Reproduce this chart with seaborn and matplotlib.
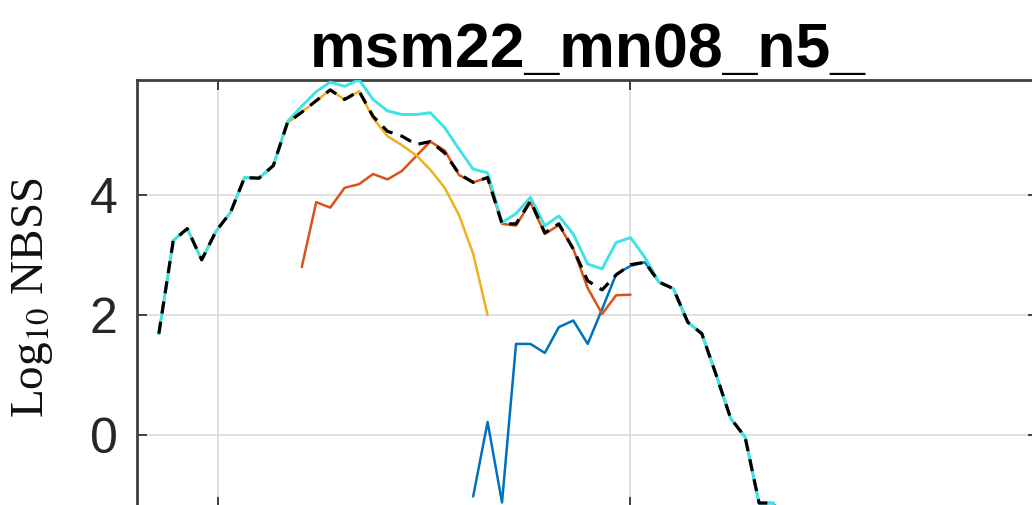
import numpy as np
import pandas as pd
import matplotlib
matplotlib.use("Agg")
import matplotlib.pyplot as plt
import seaborn as sns

# log10 size bin centres (x axis; gridlines at 2 and 3)
log_size = [1.856, 1.891, 1.925, 1.960, 1.995, 2.030, 2.064, 2.099, 2.134, 2.168,
            2.203, 2.238, 2.272, 2.307, 2.342, 2.376, 2.411, 2.446, 2.481, 2.515,
            2.550, 2.585, 2.619, 2.654, 2.689, 2.723, 2.758, 2.793, 2.827, 2.862,
            2.897, 2.932, 2.966, 3.001, 3.036, 3.070, 3.105, 3.140, 3.174, 3.209,
            3.244, 3.279, 3.313, 3.348, 3.383]

# black dashed: combined NBSS
total = [1.69, 3.24, 3.44, 2.92, 3.40, 3.71, 4.29, 4.28, 4.49, 5.20,
         5.38, 5.57, 5.75, 5.59, 5.73, 5.31, 5.06, 4.98, 4.84, 4.89,
         4.70, 4.35, 4.21, 4.29, 3.52, 3.52, 3.90, 3.37, 3.52, 3.10,
         2.57, 2.42, 2.67, 2.84, 2.88, 2.55, 2.44, 1.88, 1.69, 1.00,
         0.28, -0.03, -1.13, -1.13, -1.90]

# cyan: upper envelope
upper = [1.69, 3.24, 3.44, 2.92, 3.40, 3.71, 4.29, 4.28, 4.49, 5.22,
         5.48, 5.72, 5.88, 5.81, 5.92, 5.59, 5.40, 5.34, 5.34, 5.37,
         5.12, 4.76, 4.43, 4.37, 3.54, 3.69, 3.96, 3.49, 3.65, 3.35,
         2.85, 2.77, 3.21, 3.29, 2.96, 2.55, 2.44, 1.88, 1.69, 1.00,
         0.28, -0.03, -1.13, -1.13, -1.90]

# yellow: instrument 1 (bins 0..23)
inst1 = [1.69, 3.24, 3.44, 2.92, 3.40, 3.71, 4.29, 4.28, 4.49, 5.20,
         5.38, 5.57, 5.75, 5.59, 5.73, 5.28, 4.98, 4.83, 4.66, 4.42,
         4.12, 3.66, 3.02, 2.00]

# red: instrument 2 (bins 10..33)
inst2 = [2.80, 3.88, 3.79, 4.12, 4.18, 4.35, 4.26, 4.40, 4.65, 4.89,
         4.74, 4.33, 4.21, 4.29, 3.52, 3.49, 3.88, 3.35, 3.50, 3.10,
         2.45, 2.02, 2.33, 2.34]

# blue: instrument 3 (bins 22..44)
inst3 = [-1.02, 0.22, -1.12, 1.52, 1.52, 1.37, 1.80, 1.91, 1.52, 2.10,
         2.68, 2.82, 2.88, 2.55, 2.44, 1.88, 1.69, 1.00, 0.28, -0.03,
         -1.13, -1.13, -1.90]

y_ticks = [0, 2, 4]
x_ticks = [2, 3]
title = "msm22_mn08_n5_"

sns.set_theme(style="white")
plt.rcParams["font.family"] = ["Liberation Sans", "DejaVu Sans"]
plt.rcParams["mathtext.fontset"] = "stix"

W, H = 1032, 505
fig = plt.figure(figsize=(W / 100, H / 100), dpi=100)
ax = fig.add_axes([137 / W, (H - 507) / H, (1038 - 137) / W, (507 - 80) / H])

x1 = log_size[0:len(inst1)]
x2 = log_size[10:10 + len(inst2)]
x3 = log_size[22:22 + len(inst3)]

lw = 1.8
sns.lineplot(x=x3, y=inst3, ax=ax, color="#0072BD", linewidth=lw, zorder=3)
sns.lineplot(x=x2, y=inst2, ax=ax, color="#D95319", linewidth=lw, zorder=3)
sns.lineplot(x=x1, y=inst1, ax=ax, color="#EDB120", linewidth=lw, zorder=3)
sns.lineplot(x=log_size, y=upper, ax=ax, color="#3ee3e3", linewidth=2.1, zorder=4)
sns.lineplot(x=log_size, y=total, ax=ax, color="black", linewidth=2.3,
             linestyle=(0, (3.8, 2.6)), zorder=5)

ax.set_xlim(1.803, 3.990)
ax.set_ylim(-1.196, 5.915)
ax.set_xticks(x_ticks)
ax.set_yticks(y_ticks)
ax.set_yticklabels([str(v) for v in y_ticks])
ax.set_xlabel("")
ax.set_ylabel("")

ax.set_axisbelow(True)
ax.grid(True, color="#dedede", linewidth=1.3)
ax.tick_params(direction="in", length=7, width=1.3, color="#333333",
               top=True, right=True, bottom=True, left=True,
               labelbottom=False, labelsize=36, labelcolor="#262626", pad=14)
for s in ax.spines.values():
    s.set_visible(True)
    s.set_color("#404040")
    s.set_linewidth(2.0)

ax.set_title(title, fontsize=45, fontweight="bold", pad=7, color="black")
fig.text(33 / W, 1 - 297 / H, r"Log$_{10}$ NBSS", rotation=90,
         family="Liberation Serif", fontsize=34, ha="center", va="center",
         color="#111111")

fig.savefig("out.png", dpi=100)
